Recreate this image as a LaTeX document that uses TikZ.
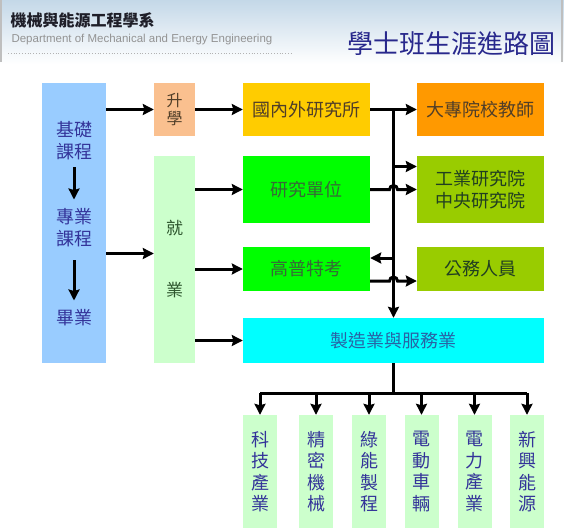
\documentclass[tikz,border=0pt]{standalone}
\usepackage{fontspec}
\newfontfamily\cjk{Noto Sans CJK TC}
\newfontfamily\latin{Liberation Sans}
\usetikzlibrary{arrows.meta,calc}
\definecolor{skyblue}{RGB}{153,204,255}
\definecolor{peach}{RGB}{250,192,143}
\definecolor{mint}{RGB}{204,255,204}
\definecolor{gold}{RGB}{255,204,0}
\definecolor{lime}{RGB}{0,255,0}
\definecolor{amber}{RGB}{255,153,0}
\definecolor{olive}{RGB}{153,204,0}
\definecolor{aqua}{RGB}{0,255,255}
\definecolor{navy}{RGB}{51,51,153}
\definecolor{umber}{RGB}{80,62,40}
\definecolor{moss}{RGB}{55,105,55}
\definecolor{steel}{RGB}{40,100,165}
\definecolor{banner}{RGB}{196,216,232}
\begin{document}
\begin{tikzpicture}[x=1pt, y=-1pt,
      every node/.style={font=\cjk},
      box/.style={rectangle, inner sep=0pt, align=center, font=\cjk\fontsize{18}{22}\selectfont},
      label/.style={rectangle, inner sep=0pt, align=center, font=\cjk\fontsize{18}{22}\selectfont},
      wide/.style={box, minimum width=127pt},
      sub/.style={box, fill=mint, text=navy, minimum width=34pt, minimum height=113pt, font=\cjk\fontsize{18}{21.5}\selectfont},
      flow/.style={line width=3pt, ->, >={Stealth[length=11pt,width=11pt,inset=1.5pt]}},
      line/.style={line width=3pt}
  ]
    \useasboundingbox (0,0) rectangle (564,530);
    \fill[white] (0,0) rectangle (564,530);

    % banner
    \shade[top color=banner, bottom color=white] (0,0) rectangle (564,64);
    \draw[gray!50, line width=1.2pt] (1,0) -- (1,62);
    \draw[gray!50, line width=1.2pt] (562,0) -- (562,62);
    \draw[gray!60, dotted, line width=0.8pt] (8,53) -- (292,53);
    \node[anchor=west, text={rgb,255:red,30;green,30;blue,40}, font=\cjk\bfseries\fontsize{16}{18}\selectfont] (dept) at (7,20) {機械與能源工程學系};
    \node[anchor=west, text=gray!85, font=\latin\fontsize{11.5}{13}\selectfont] (depten) at (8,40) {Department of Mechanical and Energy Engineering};
    \node[anchor=east, text={rgb,255:red,40;green,40;blue,140}, font=\cjk\fontsize{26}{28}\selectfont] (title) at (559,44) {學士班生涯進路圖};

    % columns
    \node[box, fill=skyblue, minimum width=64pt, minimum height=280pt] (course) at (74,223) {};
    \node[label, text=navy] (basic) at (74,141) {基礎\\課程};
    \node[label, text=navy] (major) at (74,228) {專業\\課程};
    \node[label, text=navy] (grad) at (74,318) {畢業};
    \node[box, fill=peach, text=umber, minimum width=41pt, minimum height=53pt, font=\cjk\fontsize{16}{18}\selectfont] (study) at (174.5,109.5) {升\\學};
    \node[box, fill=mint, text=moss!80!black, minimum width=41pt, minimum height=207pt, font=\cjk\fontsize{17}{62}\selectfont] (job) at (174.5,259.5) {就\\業};

    \node[wide, fill=gold, text=umber, minimum height=53pt] (abroad) at (306.5,109.5) {國內外研究所};
    \node[wide, fill=lime, text=moss, minimum height=67pt] (lab) at (306.5,189.5) {研究單位};
    \node[wide, fill=lime, text=moss, minimum height=44pt] (exam) at (306.5,269) {高普特考};
    \node[box, fill=aqua, text=steel, minimum width=301pt, minimum height=45pt] (mfg) at (393.5,340.5) {製造業與服務業};
    \node[wide, fill=amber, text=umber, minimum height=53pt] (teacher) at (480.5,109.5) {大專院校教師};
    \node[wide, fill=olive, text=moss!60!black, minimum height=67pt] (academia) at (480.5,189.5) {工業研究院\\中央研究院};
    \node[wide, fill=olive, text=moss!60!black, minimum height=44pt] (civil) at (480.5,269) {公務人員};

    \foreach \x/\name/\txt in {260/tech/科\\技\\產\\業, 316/prec/精\\密\\機\\械, 369/green/綠\\能\\製\\程,
                               421.5/ev/電\\動\\車\\輛, 474.5/power/電\\力\\產\\業, 527/energy/新\\興\\能\\源} {
      \node[sub] (\name) at (\x,471.5) {\txt};
    }

    % arrows inside the course bar
    \draw[flow, shorten <=7pt, shorten >=9pt] (basic.south) -- (major.north);
    \draw[flow, shorten <=13pt, shorten >=9pt] (major.south) -- (grad.north);

    % left arrows
    \draw[flow] (course.east |- study) -- (study.west);
    \coordinate (jobin) at ([yshift=6pt]job.west);
    \draw[flow] (course.east |- jobin) -- (jobin);
    \draw[flow] (study.east) -- (abroad.west);
    \draw[flow] (job.east |- lab) -- (lab.west);
    \draw[flow] (job.east |- exam) -- (exam.west);
    \draw[flow] (job.east |- mfg) -- (mfg.west);

    % trunk
    \coordinate (trunk) at (abroad.east -| mfg.north);
    \draw[flow] (trunk) -- (mfg.north);
    \draw[flow] (abroad.east) -- (teacher.west);
    \coordinate (upper) at ([yshift=23pt]academia.west);
    \draw[flow] (trunk |- upper) -- (upper);
    \draw[flow] (lab.east) -- ([xshift=-4pt]trunk |- lab.east) arc[start angle=180, end angle=0, radius=4pt] -- (academia.west |- lab.east);
    \coordinate (back) at ([yshift=11pt]exam.east);
    \draw[flow] (trunk |- back) -- (back);
    \coordinate (out) at ([yshift=-12pt]exam.east);
    \draw[flow] (out) -- ([xshift=-4pt]trunk |- out) arc[start angle=180, end angle=0, radius=4pt] -- (civil.west |- out);

    % branches
    \coordinate (split) at ($(mfg.south)+(0,30)$);
    \draw[line] (mfg.south) -- (split);
    \draw[line] (split -| tech) -- (split -| energy);
    \foreach \name in {tech,prec,green,ev,power,energy} {
      \draw[flow] (split -| \name) -- (\name.north);
    }
  \end{tikzpicture}
\end{document}
